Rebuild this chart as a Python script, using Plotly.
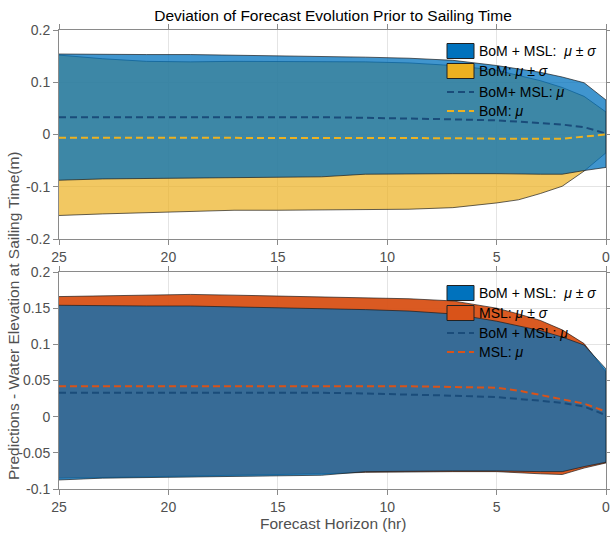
import plotly.graph_objects as go

# ---------------- data ----------------
horizon_hr = [25, 23, 21, 19, 17, 15, 13, 11, 9, 7, 5, 4, 3, 2, 1, 0]

# top panel: BoM + MSL vs BoM
bom_msl_upper = [0.154, 0.153, 0.153, 0.153, 0.152, 0.151, 0.150, 0.148, 0.146, 0.142, 0.132, 0.126, 0.119, 0.110, 0.099, 0.066]
bom_msl_lower = [-0.0875, -0.085, -0.084, -0.083, -0.082, -0.082, -0.081, -0.076, -0.075, -0.075, -0.075, -0.075, -0.076, -0.076, -0.069, -0.063]
bom_msl_mean = [0.033, 0.033, 0.034, 0.034, 0.034, 0.033, 0.033, 0.032, 0.031, 0.029, 0.027, 0.025, 0.022, 0.019, 0.014, 0.002]

bom_upper = [0.152, 0.145, 0.140, 0.139, 0.140, 0.140, 0.140, 0.139, 0.137, 0.132, 0.123, 0.113, 0.103, 0.090, 0.073, 0.043]
bom_lower = [-0.155, -0.152, -0.150, -0.147, -0.145, -0.145, -0.144, -0.144, -0.143, -0.140, -0.131, -0.125, -0.113, -0.099, -0.070, -0.035]
bom_mean = [-0.006, -0.006, -0.007, -0.007, -0.007, -0.007, -0.007, -0.007, -0.007, -0.007, -0.008, -0.008, -0.008, -0.008, -0.004, 0.000]

# bottom panel: BoM + MSL vs MSL
msl_upper = [0.166, 0.167, 0.168, 0.169, 0.168, 0.167, 0.166, 0.165, 0.163, 0.160, 0.150, 0.142, 0.133, 0.120, 0.101, 0.062]
msl_lower = [-0.085, -0.084, -0.083, -0.082, -0.081, -0.080, -0.079, -0.077, -0.076, -0.076, -0.076, -0.077, -0.079, -0.080, -0.071, -0.064]
msl_mean = [0.042, 0.042, 0.043, 0.043, 0.043, 0.043, 0.043, 0.043, 0.042, 0.041, 0.040, 0.036, 0.030, 0.024, 0.018, 0.007]

x_ticks = [25, 20, 15, 10, 5, 0]
top_y_ticks = [-0.2, -0.1, 0, 0.1, 0.2]
top_y_labels = ["-0.2", "-0.1", "0", "0.1", "0.2"]
bot_y_ticks = [-0.1, -0.05, 0, 0.05, 0.1, 0.15, 0.2]
bot_y_labels = ["-0.1", "-0.05", "0", "0.05", "0.1", "0.15", "0.2"]

top_legend = ["BoM + MSL:  <i>μ</i> ± <i>σ</i>", "BoM: <i>μ</i> ± <i>σ</i>", "BoM+ MSL: <i>μ</i>", "BoM: <i>μ</i>"]
bot_legend = ["BoM + MSL:  <i>μ</i> ± <i>σ</i>", "MSL: <i>μ</i> ± <i>σ</i>", "BoM + MSL: <i>μ</i>", "MSL: <i>μ</i>"]

title_text = "Deviation of Forecast Evolution Prior to Sailing Time"
y_title = "Predictions - Water Elevation at Sailing Time(m)"
x_title = "Forecast Horizon (hr)"

# ---------------- styles ----------------
BLUE = "#0072BD"
YELLOW = "#EDB120"
ORANGE = "#D95319"
NAVY = "#1a4c7a"
blue_fill = "rgba(0,114,189,0.75)"
yellow_fill = "rgba(237,177,32,0.70)"
orange_fill = "rgba(217,83,25,0.96)"
edge = dict(color="rgba(25,25,25,0.85)", width=0.8)
FONT = "Liberation Sans, Arial, Helvetica, sans-serif"
GRAY = "#505050"
DASH = "7px,4px"

fig = go.Figure()


def band(up, lo, fillcolor, xa, ya):
    fig.add_trace(go.Scatter(
        x=horizon_hr + horizon_hr[::-1], y=up + lo[::-1],
        fill="toself", fillcolor=fillcolor, mode="lines", line=edge,
        xaxis=xa, yaxis=ya, showlegend=False, hoverinfo="skip"))


def mean_line(vals, color, xa, ya):
    fig.add_trace(go.Scatter(
        x=horizon_hr, y=vals, mode="lines",
        line=dict(color=color, width=2, dash=DASH),
        xaxis=xa, yaxis=ya, showlegend=False, hoverinfo="skip"))


# top
band(bom_upper, bom_lower, yellow_fill, "x", "y")
band(bom_msl_upper, bom_msl_lower, blue_fill, "x", "y")
mean_line(bom_msl_mean, NAVY, "x", "y")
mean_line(bom_mean, YELLOW, "x", "y")
# bottom
band(msl_upper, msl_lower, orange_fill, "x2", "y2")
band(bom_msl_upper, bom_msl_lower, blue_fill, "x2", "y2")
mean_line(msl_mean, ORANGE, "x2", "y2")
mean_line(bom_msl_mean, NAVY, "x2", "y2")

# ---------------- layout ----------------
W, H = 610, 535
L, R, T, B = 59, 4, 30, 46
ph = H - T - B
top_dom = [(H - B - 239) / ph, 1.0]
bot_dom = [0.0, (H - B - 272) / ph]

axis_common = dict(
    showgrid=True, gridcolor="#e4e4e4", gridwidth=1, zeroline=False,
    showline=True, linecolor="#8a8a8a", linewidth=1, mirror="ticks",
    ticks="outside", ticklen=5, tickcolor="#8a8a8a", automargin=False,
    ticklabeloverflow="allow",
    tickfont=dict(family=FONT, size=14, color=GRAY),
)

fig.update_layout(
    width=W, height=H, margin=dict(l=L, r=R, t=T, b=B, autoexpand=False),
    paper_bgcolor="white", plot_bgcolor="white", showlegend=False,
    title=dict(text=title_text, x=(333) / W, xanchor="center", y=1 - 16 / H, yanchor="middle",
               font=dict(family=FONT, size=15.5, color="black"), automargin=False),
    xaxis=dict(axis_common, domain=[0, 1], range=[25, 0], tickvals=x_ticks, anchor="y"),
    yaxis=dict(axis_common, domain=top_dom, range=[-0.2, 0.2], tickvals=top_y_ticks,
               ticktext=top_y_labels, anchor="x"),
    xaxis2=dict(axis_common, domain=[0, 1], range=[25, 0], tickvals=x_ticks, anchor="y2"),
    yaxis2=dict(axis_common, domain=bot_dom, range=[-0.1, 0.2], tickvals=bot_y_ticks,
                ticktext=bot_y_labels, anchor="x2"),
)

pw = W - L - R

# axis titles
fig.add_annotation(text=y_title, xref="paper", yref="paper",
                   x=(14 - L) / pw, y=(H - B - 316) / ph, textangle=-90,
                   showarrow=False, xanchor="center", yanchor="middle",
                   font=dict(family=FONT, size=15.5, color=GRAY))
fig.add_annotation(text=x_title, xref="paper", yref="paper",
                   x=(333 - L) / pw, y=(H - B - 523) / ph,
                   showarrow=False, xanchor="center", yanchor="middle",
                   font=dict(family=FONT, size=15.5, color=GRAY))

# ---------------- legends (MATLAB-style, transparent) ----------------


def fx(px):
    return (px - L) / pw


def add_legend(labels, styles, xr, yr, rows, y_bottom_px, height_px):
    def fy(py):
        return (y_bottom_px - py) / height_px
    for lab, st, ry in zip(labels, styles, rows):
        kind, color = st
        if kind == "box":
            fig.add_shape(type="rect", xref=xr, yref=yr, x0=fx(447), x1=fx(474),
                          y0=fy(ry - 7.5), y1=fy(ry + 7.5), fillcolor=color,
                          line=dict(color="#222222", width=1), layer="above")
        else:
            fig.add_shape(type="line", xref=xr, yref=yr, x0=fx(447), x1=fx(474),
                          y0=fy(ry), y1=fy(ry),
                          line=dict(color=color, width=2, dash=DASH), layer="above")
        fig.add_annotation(text=lab, xref=xr, yref=yr, x=fx(477), y=fy(ry),
                           xanchor="left", yanchor="middle", showarrow=False,
                           font=dict(family=FONT, size=14, color="black"))


add_legend(top_legend, [("box", BLUE), ("box", YELLOW), ("line", NAVY), ("line", YELLOW)],
           "x domain", "y domain", [51, 71, 92, 111], 239, 239 - 30)
add_legend(bot_legend, [("box", BLUE), ("box", ORANGE), ("line", NAVY), ("line", ORANGE)],
           "x2 domain", "y2 domain", [293, 313, 333, 352], 489, 489 - 272)

fig.write_html(
    "out.html",
    config={"displayModeBar": False},
    post_script="document.body.style.margin='0';document.body.style.overflow='hidden';",
)
